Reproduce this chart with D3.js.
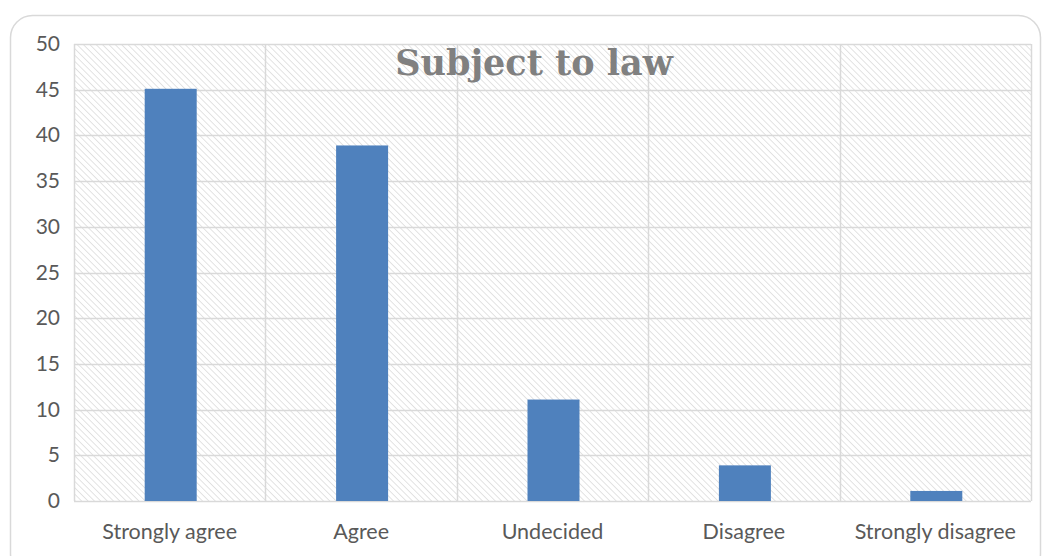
<!DOCTYPE html>
<html>
<head>
<meta charset="utf-8">
<script src="https://cdn.jsdelivr.net/npm/d3@7"></script>
<style>
  body { margin: 0; background: #fff; }
  svg { display: block; }
</style>
</head>
<body>
<svg id="chart"></svg>
<script>
var categories = ["Strongly agree", "Agree", "Undecided", "Disagree", "Strongly disagree"];
var values = [45.1, 38.9, 11.1, 3.9, 1.1];
var yTicks = [0, 5, 10, 15, 20, 25, 30, 35, 40, 45, 50];
var title = "Subject to law";

var width = 1047, height = 556;
var svg = d3.select('#chart').attr('width', width).attr('height', height);

var plot = {left: 74, right: 1031, top: 44, bottom: 501};

// hatch pattern for the plot background (lines run top-left to bottom-right)
var defs = svg.append('defs');
var pat = defs.append('pattern')
    .attr('id', 'hatch')
    .attr('patternUnits', 'userSpaceOnUse')
    .attr('width', 4.5).attr('height', 4.5)
    .attr('patternTransform', 'rotate(-45)');
pat.append('rect').attr('width', 4.5).attr('height', 4.5).attr('fill', '#fff');
pat.append('line')
    .attr('x1', 0).attr('y1', 0).attr('x2', 0).attr('y2', 4.5)
    .attr('stroke', '#d4d4d4').attr('stroke-width', 1.3);

// outer chart border
svg.append('rect')
    .attr('x', 10.5).attr('y', 15.5)
    .attr('width', 1030).attr('height', 560)
    .attr('rx', 22).attr('ry', 22)
    .attr('fill', 'none')
    .attr('stroke', '#d9d9d9')
    .attr('stroke-width', 1.5);

var x = d3.scaleBand()
    .domain(categories)
    .range([plot.left, plot.right])
    .paddingInner(0)
    .paddingOuter(0);

var y = d3.scaleLinear()
    .domain([0, 50])
    .range([plot.bottom, plot.top]);

svg.append('rect')
    .attr('x', plot.left).attr('y', plot.top)
    .attr('width', plot.right - plot.left)
    .attr('height', plot.bottom - plot.top)
    .attr('fill', 'url(#hatch)');

// horizontal gridlines
svg.append('g')
    .selectAll('line')
    .data(yTicks)
    .enter()
    .append('line')
    .attr('x1', plot.left).attr('x2', plot.right)
    .attr('y1', d => Math.round(y(d)) + 0.5)
    .attr('y2', d => Math.round(y(d)) + 0.5)
    .attr('stroke', '#d9d9d9')
    .attr('stroke-width', 1.5);

// vertical gridlines at category boundaries
var bounds = categories.map(c => x(c)).concat([plot.right]);
svg.append('g')
    .selectAll('line')
    .data(bounds)
    .enter()
    .append('line')
    .attr('x1', d => Math.round(d) + 0.5).attr('x2', d => Math.round(d) + 0.5)
    .attr('y1', plot.top).attr('y2', plot.bottom)
    .attr('stroke', '#d9d9d9')
    .attr('stroke-width', 1.5);

// title
svg.append('text')
    .attr('x', 534)
    .attr('y', 75)
    .attr('text-anchor', 'middle')
    .attr('font-family', 'DejaVu Serif, Liberation Serif, serif')
    .attr('font-weight', 'bold')
    .attr('font-size', 35)
    .attr('fill', '#808080')
    .text(title);

// bars
var barW = 52;
svg.append('g')
    .selectAll('rect')
    .data(values)
    .enter()
    .append('rect')
    .attr('x', (d, i) => x(categories[i]) + x.bandwidth() / 2 - barW / 2 + 1)
    .attr('y', d => y(d))
    .attr('width', barW)
    .attr('height', d => y(0) - y(d))
    .attr('fill', '#4f81bd');

// y axis labels
svg.append('g')
    .selectAll('text')
    .data(yTicks)
    .enter()
    .append('text')
    .attr('x', 60)
    .attr('y', d => y(d) + 7)
    .attr('text-anchor', 'end')
    .attr('font-family', 'Lato, Open Sans, sans-serif')
    .attr('font-size', 21)
    .attr('fill', '#595959')
    .text(d => d);

// x axis labels
svg.append('g')
    .selectAll('text')
    .data(categories)
    .enter()
    .append('text')
    .attr('x', d => x(d) + x.bandwidth() / 2)
    .attr('y', 539)
    .attr('text-anchor', 'middle')
    .attr('font-family', 'Lato, Open Sans, sans-serif')
    .attr('font-size', 21.5)
    .attr('fill', '#595959')
    .text(d => d);
</script>
</body>
</html>
